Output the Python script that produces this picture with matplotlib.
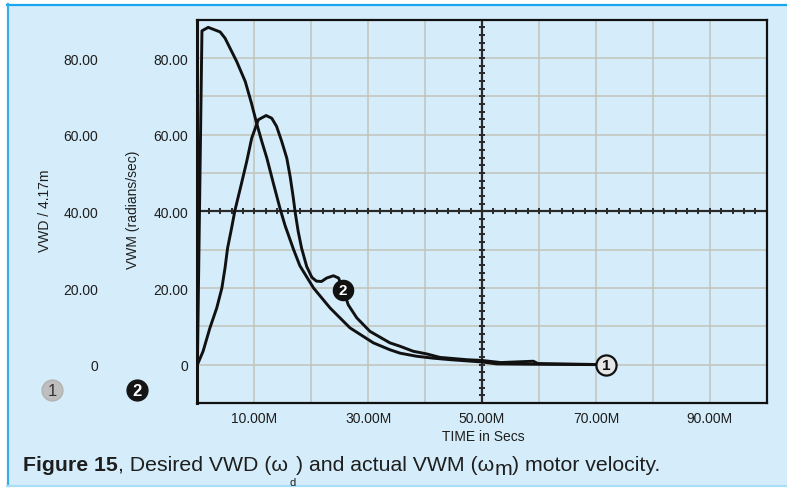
import numpy as np
import matplotlib
matplotlib.use('Agg')
from matplotlib import pyplot as plt
from matplotlib.lines import Line2D
from matplotlib.patches import Rectangle
from matplotlib.transforms import blended_transform_factory

plt.rcParams['font.family'] = ['Liberation Sans', 'DejaVu Sans']

# curve 1: desired motor velocity VWD
vwd_time = [0, 0.8, 1.9, 4.0, 4.85, 6.9, 8.4, 9.5, 10.4, 11.3, 12.2, 13.4, 14.5, 15.4,
            16.9, 18.0, 20.4, 23.3, 26.8, 30.9, 33.8, 35.6, 38.5, 41.4, 44.4,
            50.0, 52.6, 60.0, 71.8]
vwd_value = [0, 87.1, 88.0, 86.8, 85.2, 79.1, 73.9, 68.2, 63.0, 58.3, 53.9, 47.0, 40.8, 36.3,
             30.0, 25.8, 20.0, 14.8, 9.6, 5.7, 3.9, 3.0, 2.2, 1.7, 1.3,
             0.7, 0.2, 0.1, 0.0]

# curve 2: actual motor velocity VWM
vwm_time = [0, 1.0, 2.2, 3.4, 4.3, 4.85, 5.3, 6.0, 6.6, 7.7, 8.66, 9.54, 10.7, 12.06, 13.06,
            13.9, 14.8, 15.7, 16.3, 16.8, 17.2, 17.7, 18.3, 19.2, 20.1, 20.9, 21.8, 22.7, 23.9,
            24.8, 25.6, 26.5, 28.0, 30.3, 33.8, 35.6, 37.9, 40.3, 42.6, 47.3, 50.0,
            53.3, 59.0, 59.8, 71.8]
vwm_value = [0, 3.5, 9.6, 14.8, 20.0, 25.2, 30.4, 35.6, 40.3, 47.0, 53.0, 59.1, 63.9, 65.0, 64.3,
             62.2, 58.3, 53.9, 49.0, 44.0, 39.5, 34.8, 30.4, 25.6, 22.8, 21.8, 21.7, 22.6, 23.2,
             22.6, 19.6, 15.6, 12.2, 8.7, 5.7, 4.8, 3.5, 2.8, 1.9, 1.3, 1.1,
             0.55, 0.9, 0.3, 0.0]

vwm_label_index = 30  # where the "2" badge sits on curve 2

x_grid = [10, 20, 30, 40, 50, 60, 70, 80, 90]
x_labels = ['10.00M', '', '30.00M', '', '50.00M', '', '70.00M', '', '90.00M']
y_grid = [0, 10, 20, 30, 40, 50, 60, 70, 80]
y_labels = ['0', '', '20.00', '', '40.00', '', '60.00', '', '80.00']

W, H = 787, 489
BG = '#d5edfa'
INK = '#1e1e1e'


def fx(px):
    return px / W


def fy(py):
    return 1 - py / H


fig = plt.figure(figsize=(W / 100, H / 100), dpi=100)
fig.patch.set_facecolor('white')

# light blue panel with its coloured edges
fig.patches.append(Rectangle((fx(7), fy(487)), 1 - fx(7), (487 - 5) / H, zorder=-5,
                             transform=fig.transFigure, facecolor=BG, edgecolor='none'))
fig.lines.append(Line2D([fx(7), 1], [fy(5.5), fy(5.5)], transform=fig.transFigure,
                        color='#18a6ee', lw=1.6, zorder=-4))
fig.lines.append(Line2D([fx(7.5), fx(7.5)], [fy(5), fy(487)], transform=fig.transFigure,
                        color='#3aaee4', lw=1.6, zorder=-4))
fig.lines.append(Line2D([fx(7), 1], [fy(487), fy(487)], transform=fig.transFigure,
                        color='#a8def7', lw=1.6, zorder=-4))

ax = fig.add_axes([fx(197.4), fy(404), (766.7 - 197.4) / W, (404 - 20.7) / H])
ax.set_facecolor(BG)
ax.set_xlim(0, 100)
ax.set_ylim(-10, 90)

ax.set_xticks(x_grid, x_labels)
ax.set_yticks(y_grid, y_labels)
ax.tick_params(length=0, labelsize=10, colors=INK)
ax.tick_params(axis='x', pad=5.5)
ax.tick_params(axis='y', pad=6.5)
ax.grid(True, color='#c2c2b8', lw=1.1, zorder=0)
ax.set_axisbelow(True)
for side, spine in ax.spines.items():
    spine.set_color('#111111')
    spine.set_linewidth(2.2 if side == 'left' else 1.6)

# crosshair through (50, 40) with small ticks every 2 units
ax.axhline(40, color='#2a2a2a', lw=1.6, zorder=2)
ax.axvline(50, color='#2a2a2a', lw=1.6, zorder=2)
tx = np.arange(0, 101, 2)
ty = np.arange(-10, 91, 2)
ax.plot(tx, np.full(len(tx), 40), ls='none', marker='|', ms=5, mew=1.4, color='#2a2a2a', zorder=2)
ax.plot(np.full(len(ty), 50), ty, ls='none', marker='_', ms=5, mew=1.4, color='#2a2a2a', zorder=2)

ax.plot(vwd_time, vwd_value, color='#111111', lw=2.1, zorder=3, solid_joinstyle='round')
ax.plot(vwm_time, vwm_value, color='#111111', lw=2.1, zorder=3, solid_joinstyle='round')

# number badges on the curves
bx, by = vwm_time[vwm_label_index], vwm_value[vwm_label_index]
ax.plot(bx, by, 'o', ms=14.5, mfc='#111111', mec='#111111', zorder=5)
ax.text(bx, by, '2', color='white', fontsize=11, fontweight='bold', ha='center', va='center', zorder=6)
bx, by = vwd_time[-1], vwd_value[-1]
ax.plot(bx, by, 'o', ms=14.5, mfc='#e6e6e6', mec='#111111', mew=1.6, zorder=5)
ax.text(bx, by, '1', color='#111111', fontsize=11, fontweight='bold', ha='center', va='center', zorder=6)

# badges next to the axis titles
ax.plot(-0.2554, 0.0339, 'o', ms=15, mfc='#bebebe', mec='#b2b2b2', transform=ax.transAxes, clip_on=False)
ax.text(-0.2554, 0.0339, '1', color='#333333', fontsize=12, ha='center', va='center',
        transform=ax.transAxes)
ax.plot(-0.1061, 0.0339, 'o', ms=15, mfc='#151515', mec='#151515', transform=ax.transAxes, clip_on=False)
ax.text(-0.1061, 0.0339, '2', color='white', fontsize=12, fontweight='bold', ha='center', va='center',
        transform=ax.transAxes)

# second (outer) scale, same numbers
trans = blended_transform_factory(ax.transAxes, ax.transData)
for value, label in zip(y_grid, y_labels):
    if label:
        ax.text(-0.1746, value, label, transform=trans, ha='right', va='center_baseline',
                fontsize=10, color=INK)

fig.text(fx(45), fy(211), 'VWD / 4.17m', rotation=90, ha='center', va='center', fontsize=10, color=INK)
fig.text(fx(133), fy(210), 'VWM (radians/sec)', rotation=90, ha='center', va='center', fontsize=10, color=INK)
fig.text(fx(483), fy(437.5), 'TIME in Secs', ha='center', va='center', fontsize=10, color=INK)

# caption, built piece by piece so the subscripts can drop
cap = 15.3
t = fig.text(fx(23), fy(470.7), 'Figure 15', fontsize=cap, fontweight='bold', color=INK, va='baseline')
pieces = [(', Desired VWD (\u03c9', cap, 0, 0),
          ('d', 8, 1, -9.5),
          (') and actual VWM (\u03c9', cap, 0.5, 9.5),
          ('m', cap, 0, -3),
          (') motor velocity.', cap, 0, 3)]
for text, size, dx, dy in pieces:
    t = ax.annotate(text, xy=(1, 0), xycoords=t, xytext=(dx, dy), textcoords='offset points',
                    fontsize=size, color=INK, ha='left', va='bottom', annotation_clip=False)

fig.savefig('out.png', dpi=100, facecolor=fig.get_facecolor())
